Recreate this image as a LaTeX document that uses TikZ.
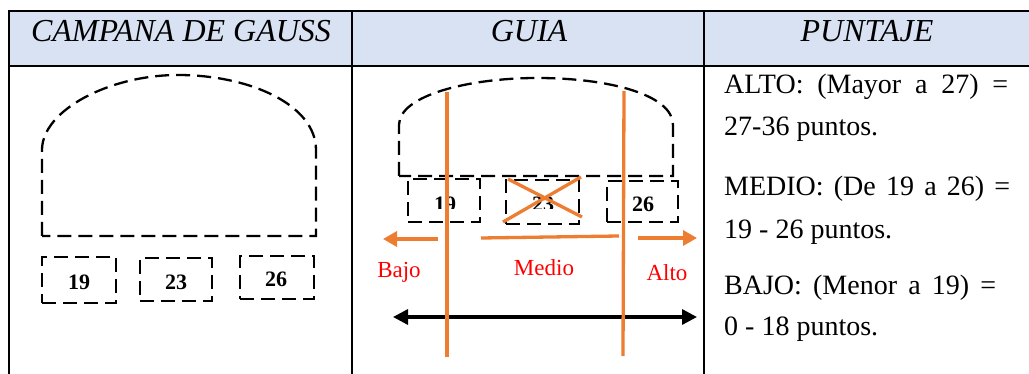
\documentclass[tikz,border=0pt]{standalone}
\usepackage{fontspec}
\setmainfont{Liberation Serif}
\usetikzlibrary{arrows.meta}
\definecolor{hdr}{HTML}{D9E2F3}
\definecolor{orng}{HTML}{ED7D31}
\definecolor{redtxt}{HTML}{FF0000}
\begin{document}
\begin{tikzpicture}[x=1pt,y=-1pt,
  gridline/.style={line width=2pt},
  dsh/.style={line width=2.3pt, dash pattern=on 14pt off 7pt},
  numbox/.style={dsh, draw, rectangle, inner sep=0pt},
  numlbl/.style={font=\fontsize{22}{24}\selectfont\bfseries, inner sep=0pt, anchor=base},
  hdrtxt/.style={font=\fontsize{32}{36}\selectfont\itshape, inner sep=0pt, anchor=base},
  redlbl/.style={font=\fontsize{23}{26}\selectfont, text=redtxt, inner sep=0pt, anchor=base},
  ptxt/.style={font=\fontsize{28}{30}\selectfont, inner sep=0pt, anchor=base west},
  oline/.style={draw=orng, line width=3.3pt},
  oarrow/.style={oline, -{Triangle[length=14pt,width=15pt]}},
  barrow/.style={line width=3.3pt, {Triangle[length=15pt,width=15pt]}-{Triangle[length=15pt,width=15pt]}},
]
\useasboundingbox (0,0) rectangle (1029,374);
% table
\fill[hdr] (9,11) rectangle (1029,66);
\draw[gridline] (8,11) -- (1029,11);
\draw[gridline] (9,66) -- (1029,66);
\draw[gridline] (9,10) -- (9,374);
\draw[gridline] (352,10) -- (352,374);
\draw[gridline] (704,10) -- (704,374);
% headers
\node[hdrtxt] (h1) at (181,42) {CAMPANA DE GAUSS};
\node[hdrtxt] (h2) at (529,42) {GUIA};
\node[hdrtxt] (h3) at (867,42) {PUNTAJE};
% column 1
\draw[dsh] (42,236) -- (42,150) .. controls (42,110) and (110,75) .. (178,75)
  .. controls (250,75) and (316,105) .. (316,150) -- (316,236) -- cycle;
\node[numbox, minimum width=74pt, minimum height=46pt] (b19) at (79,280) {};
\node[numbox, minimum width=72pt, minimum height=43pt] (b23) at (176,279.5) {};
\node[numbox, minimum width=74pt, minimum height=43pt] (b26) at (277,277.5) {};
\node[numlbl] (l19) at (79,290) {19};
\node[numlbl] (l23) at (176,290) {23};
\node[numlbl] (l26) at (276,287) {26};
% column 2
\draw[dsh] (399,176) -- (399,125) .. controls (399,95) and (470,78) .. (537,78)
  .. controls (610,78) and (673,95) .. (673,125) -- (673,176) -- cycle;
\node[numbox, minimum width=72pt, minimum height=43pt] (g19) at (444,200.5) {};
\node[numbox, minimum width=73pt, minimum height=44pt] (g23) at (542.5,202) {};
\node[numbox, minimum width=71pt, minimum height=41pt] (g26) at (642.5,201.5) {};
\begin{scope}
  \clip (400,185) rectangle (600,209);
  \node[numlbl] (m19) at (445,212) {19};
  \node[numlbl] (m23) at (543,212) {23};
\end{scope}
\node[numlbl] (m26) at (643,212) {26};
\node[redlbl] (bajo) at (399,278) {Bajo};
\node[redlbl] (medio) at (544,276) {Medio};
\node[redlbl] (alto) at (667,281) {Alto};
\coordinate (bl) at (393,317);
\coordinate (br) at (697,317);
\draw[barrow] (bl) -- (br);
\coordinate (la0) at (438,239);
\coordinate (la1) at (383,239);
\coordinate (ra0) at (638,238);
\coordinate (ra1) at (697,238);
\draw[oarrow] (la0) -- (la1);
\draw[oarrow] (ra0) -- (ra1);
\coordinate (mh0) at (481,238);
\coordinate (mh1) at (619,236);
\draw[oline] (mh0) -- (mh1);
\coordinate (v1t) at (447,92);
\coordinate (v1b) at (447,357);
\coordinate (v2t) at (624,91);
\coordinate (v2b) at (623,356);
\draw[oline] (v1t) -- (v1b);
\draw[oline] (v2t) -- (v2b);
\coordinate (x1a) at (503,222);
\coordinate (x1b) at (581,177);
\coordinate (x2a) at (508,179);
\coordinate (x2b) at (582,217);
\draw[oline] (x1a) -- (x1b);
\draw[oline] (x2a) -- (x2b);
% column 3
\node[ptxt] (p1) at (724,94) {\makebox[284pt][s]{ALTO: (Mayor a 27) =}};
\node[ptxt] (p2) at (724,136) {27-36 puntos.};
\node[ptxt] (p3) at (724,196) {\makebox[286pt][s]{MEDIO: (De 19 a 26) =}};
\node[ptxt] (p4) at (724,239) {19 - 26 puntos.};
\node[ptxt] (p5) at (724,295) {\makebox[272pt][s]{BAJO: (Menor a 19) =}};
\node[ptxt] (p6) at (724,335) {0 - 18 puntos.};
\end{tikzpicture}
\end{document}
